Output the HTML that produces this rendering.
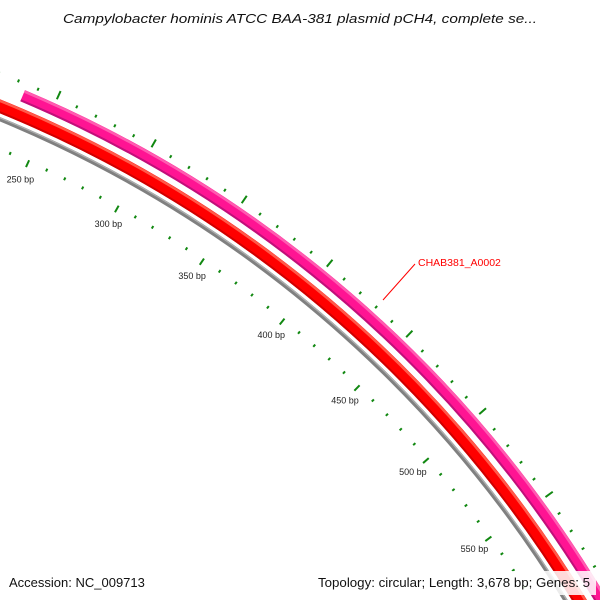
<!DOCTYPE html>
<html><head><meta charset="utf-8"><style>
html,body{margin:0;padding:0;background:#fff;width:600px;height:600px;overflow:hidden}
svg{display:block}
text{font-family:"Liberation Sans","DejaVu Sans",sans-serif}
</style></head><body>
<svg id="map" width="600" height="600" viewBox="0 0 600 600" xmlns="http://www.w3.org/2000/svg" style="overflow:hidden">
<rect width="600" height="600" fill="#fff"/>
<g id="rings"></g>
<g id="ticks"></g>
<g id="labels"></g>
<line x1="383" y1="300" x2="415" y2="264" stroke="#ff0000" stroke-width="1"/>
<text x="418" y="266" font-size="10.5" fill="#ff0000">CHAB381_A0002</text>
<text x="300" y="23" font-size="13" font-style="italic" text-anchor="middle" textLength="474" lengthAdjust="spacingAndGlyphs" fill="#111">Campylobacter hominis ATCC BAA-381 plasmid pCH4, complete se...</text>
<text x="9" y="587" font-size="13" fill="#111">Accession: NC_009713</text>
<rect x="312" y="571" width="284" height="24" fill="#fff" fill-opacity="0.85"/>
<text x="318" y="587" font-size="13" textLength="272" lengthAdjust="spacingAndGlyphs" fill="#111">Topology: circular; Length: 3,678 bp; Genes: 5</text>
</svg>
<script>
const seqLength = 3678;
const tickStepMinor = 10;
const tickStepMajor = 50;
const tickRange = [100, 800];
const featureStarts = [234.5, 0];
const featureEnds = [900, 1000];
const featureNames = ['CHAB381_A0002', 'red-feature'];

const NS = 'http://www.w3.org/2000/svg';
const CX = -458, CY = 1230.6;
function ang(bp){ return bp / seqLength * 2 * Math.PI; }
function pt(bp, r){ const a = ang(bp); return [CX + r*Math.sin(a), CY - r*Math.cos(a)]; }
function arcPath(b0, b1, r){
  const p0 = pt(b0, r), p1 = pt(b1, r);
  const large = (b1-b0)/seqLength > 0.5 ? 1 : 0;
  return 'M'+p0[0]+','+p0[1]+' A'+r+','+r+' 0 '+large+' 1 '+p1[0]+','+p1[1];
}
function mk(tag, attrs, parent){
  const el = document.createElementNS(NS, tag);
  for (const k in attrs) el.setAttribute(k, attrs[k]);
  parent.appendChild(el);
  return el;
}
const rings = document.getElementById('rings');
let bb = mk('path', {d: arcPath(0, 1200, 1202), fill:'none', stroke:'#808080', 'stroke-width':4.2}, rings);


let bbh = mk('path', {d: arcPath(0, 1200, 1203.3), fill:'none', stroke:'#b0b0b0', 'stroke-width':1.2}, rings);


const rr = 1214;
let red = mk('path', {d: arcPath(featureStarts[1], featureEnds[1], rr), fill:'none', stroke:'#ff0000', 'stroke-width':13}, rings);


let redHi = mk('path', {d: arcPath(featureStarts[1], featureEnds[1], rr+5), fill:'none', stroke:'#ff5a4a', 'stroke-width':2.5}, rings);


let redLo = mk('path', {d: arcPath(featureStarts[1], featureEnds[1], rr-5.5), fill:'none', stroke:'#d00000', 'stroke-width':2}, rings);


const pr = 1232.5;
let pink = mk('path', {d: arcPath(featureStarts[0], featureEnds[0], pr), fill:'none', stroke:'#ff1493', 'stroke-width':12}, rings);


let pinkHi = mk('path', {d: arcPath(featureStarts[0], featureEnds[0], pr+4.5), fill:'none', stroke:'#ff5cb0', 'stroke-width':2.5}, rings);


let pinkLo = mk('path', {d: arcPath(featureStarts[0], featureEnds[0], pr-5), fill:'none', stroke:'#c0107a', 'stroke-width':2}, rings);



const ticks = document.getElementById('ticks');
const labels = document.getElementById('labels');
for (let bp = tickRange[0]; bp <= tickRange[1]; bp += tickStepMinor){
  const major = bp % tickStepMajor === 0;
  const i0 = major ? pt(bp, 1168.5) : pt(bp, 1173);
  const i1 = pt(bp, 1176);
  let t1 = mk('line', {x1:i0[0], y1:i0[1], x2:i1[0], y2:i1[1], stroke:'#118811', 'stroke-width':2}, ticks);
  
  
  const o0 = pt(bp, 1243);
  const o1 = major ? pt(bp, 1252) : pt(bp, 1246);
  let t2 = mk('line', {x1:o0[0], y1:o0[1], x2:o1[0], y2:o1[1], stroke:'#118811', 'stroke-width':2}, ticks);
  
  
  if (major){
    const lp = pt(bp, 1155);
    let tx = mk('text', {x:lp[0], y:lp[1]+3, 'font-size':9, 'text-anchor':'middle', fill:'#222'}, labels);
    tx.textContent = bp + ' bp';
    
    
  }
}
</script>
</body></html>
